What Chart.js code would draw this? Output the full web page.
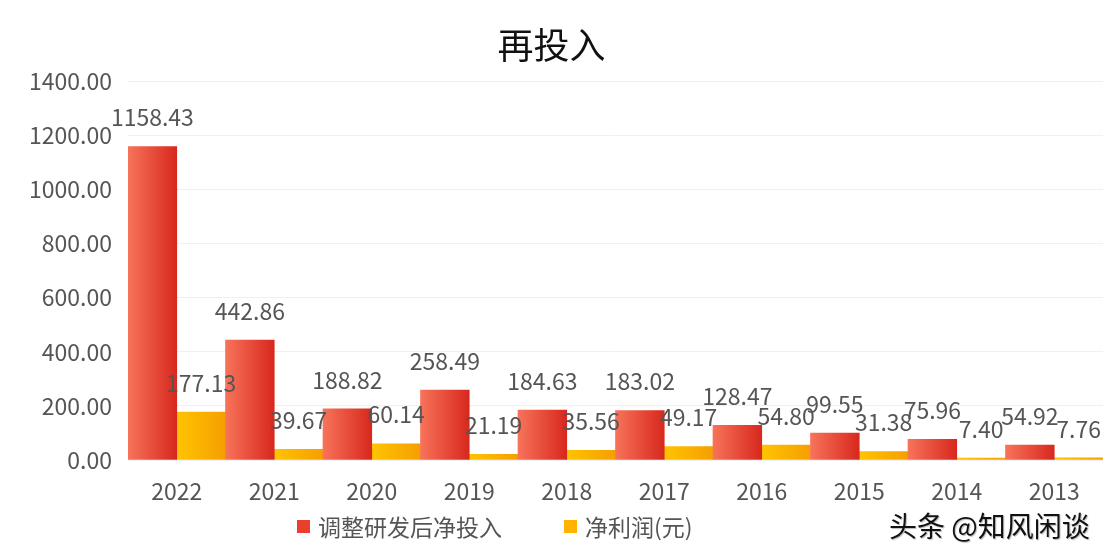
<!DOCTYPE html>
<html>
<head>
<meta charset="utf-8">
<script src="https://cdn.jsdelivr.net/npm/chart.js@4"></script>
<style>
  html, body { margin: 0; padding: 0; background: #fff; }
  #wrap { position: relative; width: 1110px; height: 558px; }
  #mark { position: absolute; left: 889px; top: 505px; font: 28px "Noto Sans CJK SC", sans-serif; color: #111; text-shadow: 1px 1px 1px #bbb; }
</style>
</head>
<body>
<div id="wrap">
  <canvas id="barInvest" width="1110" height="558"></canvas>
  <div id="mark">头条 @知风闲谈</div>
</div>
<script>
// dados
const anos = ['2022', '2021', '2020', '2019', '2018', '2017', '2016', '2015', '2014', '2013'];
const netInvest = [1158.43, 442.86, 188.82, 258.49, 184.63, 183.02, 128.47, 99.55, 75.96, 54.92];
const netProfit = [177.13, 39.67, 60.14, 21.19, 35.56, 49.17, 54.80, 31.38, 7.40, 7.76];
const yMax = 1400;
const yStep = 200;

const fonte = "'Noto Sans CJK SC', 'Noto Sans', sans-serif";
const legendColors = ['#e8402e', '#ffb300'];

// gradiente horizontal por barra
function barGrad(c, light, dark, solid) {
    const chart = c.chart;
    if (c.type !== 'data' || !chart.chartArea || !chart.scales.x) return solid;
    const x = chart.scales.x;
    const center = x.getPixelForValue(c.dataIndex);
    const half = (x.width / anos.length) / 2;
    const left = c.datasetIndex === 0 ? center - half : center;
    const g = chart.ctx.createLinearGradient(left, 0, left + half, 0);
    g.addColorStop(0, light);
    g.addColorStop(1, dark);
    return g;
}

// rótulos de valor acima das barras
const valueLabels = {
    id: 'valueLabels',
    afterDatasetsDraw(chart) {
        const ctx = chart.ctx;
        ctx.save();
        ctx.font = '23px ' + fonte;
        ctx.fillStyle = '#555';
        ctx.textAlign = 'center';
        ctx.textBaseline = 'middle';
        chart.data.datasets.forEach((ds, i) => {
            chart.getDatasetMeta(i).data.forEach((bar, j) => {
                ctx.fillText(ds.data[j].toFixed(2), bar.x, bar.y - 29);
            });
        });
        ctx.restore();
    }
};

// legenda embaixo, desenhada na mão
const bottomLegend = {
    id: 'bottomLegend',
    afterDraw(chart) {
        const ctx = chart.ctx;
        ctx.save();
        ctx.font = '23px ' + fonte;
        ctx.textBaseline = 'middle';
        ctx.textAlign = 'left';
        let x = 297;
        const y = 527;
        chart.data.datasets.forEach((ds, i) => {
            ctx.fillStyle = legendColors[i];
            ctx.fillRect(x, y - 7, 13, 13);
            ctx.fillStyle = '#555';
            ctx.fillText(ds.label, x + 21, y);
            x += 21 + ctx.measureText(ds.label).width + 62;
        });
        ctx.restore();
    }
};

const dadosInvest = {
    labels: anos,
    datasets: [{
        label: '调整研发后净投入',
        data: netInvest,
        backgroundColor: (c) => barGrad(c, '#f7735a', '#d8281e', legendColors[0]),
        categoryPercentage: 1,
        barPercentage: 1
    }, {
        label: '净利润(元)',
        data: netProfit,
        backgroundColor: (c) => barGrad(c, '#ffc400', '#f59f00', legendColors[1]),
        categoryPercentage: 1,
        barPercentage: 1
    }]
};

const configInvest = {
    type: 'bar',
    data: dadosInvest,
    options: {
        responsive: false,
        animation: false,
        layout: { padding: { left: 0, right: 7, top: 0, bottom: 48 } },
        scales: {
            x: {
                grid: { display: false },
                border: { display: false },
                ticks: { color: '#555', font: { size: 23, family: fonte }, padding: 9 },
                afterFit: (s) => { s.height = 50; }
            },
            y: {
                min: 0,
                max: yMax,
                ticks: {
                    stepSize: yStep,
                    color: '#555',
                    padding: 16,
                    font: { size: 23, family: fonte },
                    callback: (v) => v.toFixed(2)
                },
                grid: { color: '#eef0f4', drawTicks: false },
                border: { display: false },
                afterFit: (s) => { s.width = 128; }
            }
        },
        plugins: {
            title: {
                display: true,
                text: '再投入',
                color: '#111',
                padding: { top: 24, bottom: 14 },
                font: { size: 36, weight: 'normal', family: fonte }
            },
            legend: { display: false },
            tooltip: { enabled: false }
        }
    },
    plugins: [valueLabels, bottomLegend]
};

new Chart(document.getElementById('barInvest').getContext('2d'), configInvest);
</script>
</body>
</html>
